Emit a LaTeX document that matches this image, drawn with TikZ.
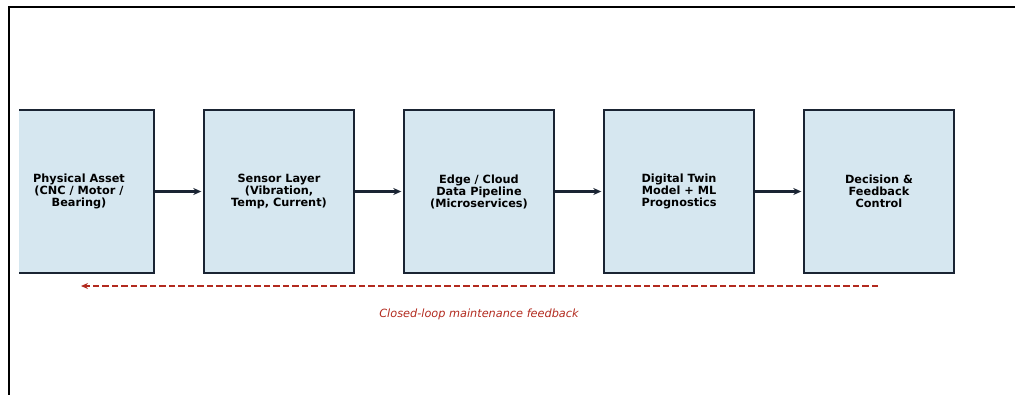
\documentclass[tikz,border=0pt]{standalone}
\usepackage{fontspec}
\setmainfont{DejaVu Sans}
\usetikzlibrary{arrows.meta}
\definecolor{boxfill}{HTML}{D6E7F0}
\definecolor{boxline}{HTML}{1A2433}
\definecolor{fbred}{HTML}{B22A1E}
\tikzset{
  stage/.style={draw=boxline, line width=1.4pt, fill=boxfill, minimum width=150pt, minimum height=163pt,
    inner sep=0pt, align=center, font=\bfseries\fontsize{11.3}{12}\selectfont, text=black},
  flowarrow/.style={color=boxline, line width=2.2pt, -{Stealth[length=8pt,width=7pt]}},
  feedback/.style={color=fbred, line width=1.5pt, dash pattern=on 6.5pt off 3pt, -{Stealth[length=7pt,width=6pt]}},
}
\begin{document}
\begin{tikzpicture}[x=1pt,y=-1pt]
\useasboundingbox (0,0) rectangle (1015,394);
\draw[line width=1.5pt] (9,420) -- (9,7) -- (1030,7);
\begin{scope}
\clip (19,0) rectangle (1015,394);
\node[stage] (a) at (79,191.5) {Physical Asset\\(CNC / Motor /\\Bearing)};
\end{scope}
\node[stage] (b) at (279,191.5) {Sensor Layer\\(Vibration,\\Temp, Current)};
\node[stage] (c) at (479,191.5) {Edge / Cloud\\Data Pipeline\\(Microservices)};
\node[stage] (d) at (679,191.5) {Digital Twin\\Model + ML\\Prognostics};
\node[stage] (e) at (879,191.5) {Decision \&\\Feedback\\Control};
\draw[flowarrow] (a.east) -- ([xshift=-2pt]b.west);
\draw[flowarrow] (b.east) -- ([xshift=-2pt]c.west);
\draw[flowarrow] (c.east) -- ([xshift=-2pt]d.west);
\draw[flowarrow] (d.east) -- ([xshift=-2pt]e.west);
\coordinate (fbs) at (878,286);
\coordinate (fbe) at (81,286);
\draw[feedback] (fbs) -- (fbe);
\node[text=fbred, font=\itshape\fontsize{11.3}{13}\selectfont] (lbl) at (479,314.5) {Closed-loop maintenance feedback};
\end{tikzpicture}
\end{document}
